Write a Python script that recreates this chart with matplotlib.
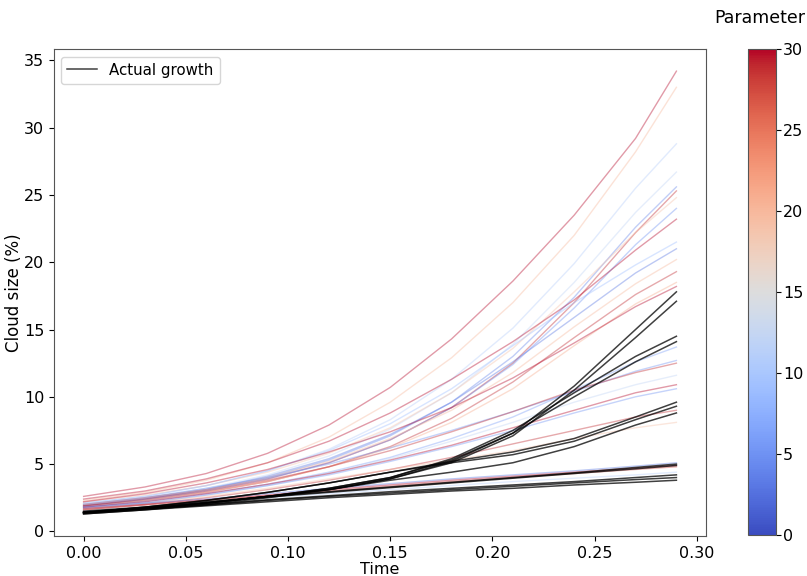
import numpy as np
import matplotlib.pyplot as plt
from matplotlib import cm, colors

# -------------------- data --------------------

time = [0.00, 0.03, 0.06, 0.09, 0.12, 0.15, 0.18, 0.21, 0.24, 0.27, 0.29]

# simulated runs: parameter value and cloud size (%)
sim_params = [30, 20, 11, 12, 4, 29, 19, 5, 30, 9, 3, 20, 29, 21, 30,
              6, 5, 29, 12, 30, 5, 29, 19, 3, 30, 28, 11]
sim_runs = [
    [2.6, 3.3, 4.3, 5.8, 7.9, 10.7, 14.3, 18.6, 23.5, 29.2, 34.2],
    [2.3, 2.9, 3.8, 5.1, 7.0, 9.6, 12.9, 17.0, 22.0, 28.2, 33.0],
    [2.1, 2.6, 3.4, 4.5, 6.1, 8.3, 11.3, 15.1, 19.9, 25.5, 28.8],
    [2.0, 2.5, 3.2, 4.2, 5.6, 7.6, 10.3, 13.9, 18.5, 23.7, 26.7],
    [1.9, 2.4, 3.1, 4.0, 5.3, 7.1, 9.6, 13.0, 17.4, 22.6, 25.6],
    [2.0, 2.5, 3.1, 3.9, 5.1, 6.8, 9.2, 12.5, 17.0, 22.2, 25.3],
    [2.2, 2.7, 3.4, 4.4, 5.8, 7.7, 10.3, 13.6, 17.8, 22.2, 24.8],
    [1.8, 2.3, 3.0, 3.9, 5.1, 6.8, 9.2, 12.4, 16.6, 21.3, 24.0],
    [2.4, 3.0, 3.9, 5.1, 6.7, 8.8, 11.3, 14.1, 17.2, 20.9, 23.2],
    [2.1, 2.6, 3.4, 4.5, 6.0, 8.0, 10.6, 13.8, 17.0, 19.8, 21.5],
    [1.9, 2.4, 3.1, 4.1, 5.4, 7.2, 9.6, 12.6, 15.9, 19.2, 21.0],
    [2.0, 2.5, 3.1, 4.0, 5.2, 6.9, 9.0, 11.8, 15.2, 18.4, 20.2],
    [1.9, 2.3, 2.9, 3.7, 4.8, 6.3, 8.4, 11.1, 14.4, 17.6, 19.3],
    [1.8, 2.3, 2.9, 3.7, 4.8, 6.2, 8.1, 10.6, 13.8, 16.9, 18.5],
    [2.2, 2.8, 3.6, 4.6, 5.9, 7.4, 9.2, 11.4, 14.0, 16.7, 18.2],
    [1.8, 2.2, 2.8, 3.5, 4.4, 5.5, 6.9, 8.5, 10.5, 12.6, 13.7],
    [2.0, 2.5, 3.2, 4.0, 5.0, 6.2, 7.5, 8.9, 10.4, 11.9, 12.7],
    [1.9, 2.4, 3.0, 3.8, 4.8, 6.0, 7.4, 8.9, 10.5, 11.8, 12.5],
    [1.7, 2.1, 2.7, 3.4, 4.3, 5.4, 6.7, 8.1, 9.6, 10.9, 11.6],
    [1.8, 2.2, 2.8, 3.5, 4.3, 5.3, 6.4, 7.7, 9.0, 10.3, 10.9],
    [1.7, 2.1, 2.7, 3.4, 4.2, 5.2, 6.3, 7.5, 8.8, 10.0, 10.6],
    [1.6, 2.0, 2.5, 3.1, 3.8, 4.6, 5.5, 6.5, 7.5, 8.5, 9.0],
    [1.7, 2.1, 2.6, 3.2, 3.9, 4.6, 5.3, 6.0, 6.9, 7.7, 8.1],
    [1.8, 2.1, 2.4, 2.8, 3.2, 3.55, 3.9, 4.2, 4.5, 4.85, 5.1],
    [1.7, 2.0, 2.35, 2.7, 3.1, 3.45, 3.8, 4.1, 4.4, 4.7, 4.9],
    [1.6, 1.95, 2.3, 2.65, 3.0, 3.35, 3.7, 4.0, 4.3, 4.6, 4.8],
    [1.5, 1.8, 2.15, 2.5, 2.8, 3.1, 3.4, 3.7, 3.95, 4.2, 4.4],
]

# actual (observed) growth curves
actual_runs = [
    [1.4, 1.7, 2.1, 2.6, 3.1, 3.9, 5.2, 7.3, 10.8, 15.0, 17.8],
    [1.4, 1.7, 2.1, 2.6, 3.1, 3.9, 5.1, 7.1, 10.5, 14.4, 17.1],
    [1.4, 1.7, 2.1, 2.6, 3.2, 4.0, 5.4, 7.5, 10.3, 13.0, 14.5],
    [1.4, 1.7, 2.1, 2.6, 3.2, 4.0, 5.3, 7.3, 10.0, 12.6, 14.1],
    [1.4, 1.8, 2.3, 2.9, 3.6, 4.4, 5.2, 5.9, 6.9, 8.5, 9.6],
    [1.4, 1.8, 2.3, 2.9, 3.6, 4.4, 5.1, 5.7, 6.7, 8.3, 9.3],
    [1.3, 1.6, 2.0, 2.5, 3.1, 3.8, 4.4, 5.1, 6.3, 7.9, 8.8],
    [1.5, 1.8, 2.2, 2.6, 2.95, 3.3, 3.65, 4.0, 4.35, 4.75, 5.0],
    [1.45, 1.75, 2.15, 2.55, 2.9, 3.25, 3.6, 3.95, 4.3, 4.65, 4.9],
    [1.4, 1.7, 2.0, 2.35, 2.65, 2.95, 3.2, 3.45, 3.7, 4.0, 4.2],
    [1.35, 1.65, 1.95, 2.3, 2.6, 2.85, 3.1, 3.35, 3.6, 3.85, 4.0],
    [1.3, 1.6, 1.9, 2.2, 2.5, 2.75, 3.0, 3.2, 3.45, 3.65, 3.8],
]

# -------------------- plot --------------------

fig = plt.figure(figsize=(8.07, 5.76), dpi=100)
ax = fig.add_axes([0.0669, 0.0694, 0.808, 0.8455])
cax = fig.add_axes([0.927, 0.0712, 0.034, 0.844])

cmap = plt.get_cmap('coolwarm')
norm = colors.Normalize(vmin=0, vmax=30)

for p, run in zip(sim_params, sim_runs):
    ax.plot(time, run, color=cmap(norm(p)), alpha=0.4, linewidth=1)

for i, run in enumerate(actual_runs):
    ax.plot(time, run, color='black', alpha=0.75, linewidth=1.1,
            label='Actual growth' if i == 0 else None)

ax.set_xlabel('Time', fontsize=11.5, labelpad=1)
ax.set_ylabel('Cloud size (%)', fontsize=12, labelpad=1)
ax.tick_params(labelsize=11.5)
ax.set_xticks([0.0, 0.05, 0.10, 0.15, 0.20, 0.25, 0.30])
ax.xaxis.set_major_formatter(plt.FormatStrFormatter('%.2f'))
ax.legend(loc='upper left', fontsize=10.8)
for s in ax.spines.values():
    s.set_color('#555555')

sm = cm.ScalarMappable(norm=norm, cmap=cmap)
cbar = fig.colorbar(sm, cax=cax)
cbar.ax.tick_params(labelsize=11.5, pad=2)
cbar.outline.set_color('#555555')
fig.text(0.942, 0.968, 'Parameter', ha='center', va='center', fontsize=12.5)

plt.savefig('out.png', dpi=100)
